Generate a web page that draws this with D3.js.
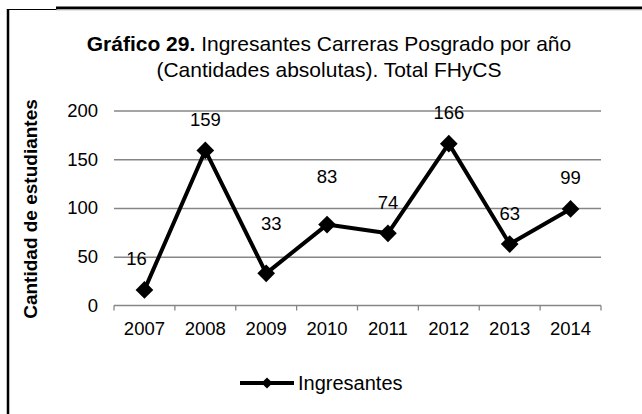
<!DOCTYPE html>
<html>
<head>
<meta charset="utf-8">
<script src="https://cdn.jsdelivr.net/npm/d3@7"></script>
<style>
  body { margin: 0; background: #fff; }
  text { font-family: "Liberation Sans", Arial, sans-serif; fill: #000; }
</style>
</head>
<body>
<div id="chart"></div>
<script>
// Ingresantes por año
var years = ["2007", "2008", "2009", "2010", "2011", "2012", "2013", "2014"];
var ingresantes = [16, 159, 33, 83, 74, 166, 63, 99];
var yTicks = [0, 50, 100, 150, 200];
var seriesName = "Ingresantes";

// some labels were nudged in the original to stay clear of the line
var labelLift = { "2009": 50, "2010": 48 };
var labelShift = { "2007": -8, "2009": 5 };

var WIDTH = 642, HEIGHT = 414;
var margin = { left: 114, right: 41, top: 110.5, bottom: 108.5 };

var svg = d3.select("#chart").append("svg")
    .attr("width", WIDTH)
    .attr("height", HEIGHT);

// frame
svg.append("line").attr("x1", 8).attr("x2", 8).attr("y1", 9).attr("y2", HEIGHT)
    .attr("stroke", "#000").attr("stroke-width", 2.5);
svg.append("line").attr("x1", 9.5).attr("x2", 9.5).attr("y1", 10).attr("y2", HEIGHT)
    .attr("stroke", "#bbb").attr("stroke-width", 1);
svg.append("line").attr("x1", 7).attr("x2", 57).attr("y1", 9.5).attr("y2", 9.5)
    .attr("stroke", "#000").attr("stroke-width", 1);
svg.append("line").attr("x1", 56).attr("x2", WIDTH).attr("y1", 8).attr("y2", 8)
    .attr("stroke", "#000").attr("stroke-width", 3);
svg.append("line").attr("x1", 56).attr("x2", WIDTH).attr("y1", 10).attr("y2", 10)
    .attr("stroke", "#ccc").attr("stroke-width", 1);

var x = d3.scaleBand()
    .domain(years)
    .range([margin.left, WIDTH - margin.right]);

var y = d3.scaleLinear()
    .domain([0, 200])
    .range([HEIGHT - margin.bottom, margin.top]);

// title
var title = svg.append("text")
    .attr("x", 329).attr("y", 51)
    .attr("text-anchor", "middle")
    .style("font-size", "21px");
title.append("tspan").style("font-weight", "bold").text("Gráfico 29.");
title.append("tspan").text(" Ingresantes Carreras Posgrado por año");
svg.append("text")
    .attr("x", 329).attr("y", 77)
    .attr("text-anchor", "middle")
    .style("font-size", "21px")
    .text("(Cantidades absolutas). Total FHyCS");

// gridlines
svg.append("g")
    .attr("transform", "translate(" + margin.left + ",0)")
    .call(d3.axisLeft(y).tickValues(yTicks.slice(1))
        .tickSize(-(WIDTH - margin.left - margin.right)).tickFormat(""))
    .call(function(g) { g.select(".domain").remove(); })
    .selectAll("line").attr("stroke", "#868686").attr("stroke-width", 1.3);

// y tick labels
svg.selectAll(".ylab")
    .data(yTicks)
    .enter()
    .append("text")
    .attr("class", "ylab")
    .attr("x", 98)
    .attr("y", function(d) { return y(d); })
    .attr("dy", "0.35em")
    .attr("text-anchor", "end")
    .style("font-size", "18.5px")
    .text(function(d) { return d; });

// x axis
var xAxis = svg.append("g")
    .attr("transform", "translate(0," + y(0) + ")");
xAxis.append("line")
    .attr("x1", margin.left).attr("x2", WIDTH - margin.right)
    .attr("stroke", "#868686").attr("stroke-width", 1.3);
xAxis.selectAll(".tick")
    .data(years.concat(["end"]))
    .enter()
    .append("line")
    .attr("x1", function(d, i) { return margin.left + i * x.bandwidth(); })
    .attr("x2", function(d, i) { return margin.left + i * x.bandwidth(); })
    .attr("y1", 0).attr("y2", 5)
    .attr("stroke", "#868686").attr("stroke-width", 1.3);
xAxis.selectAll(".xlab")
    .data(years)
    .enter()
    .append("text")
    .attr("x", function(d) { return x(d) + x.bandwidth() / 2; })
    .attr("y", 29)
    .attr("text-anchor", "middle")
    .style("font-size", "18.5px")
    .text(function(d) { return d; });

// y axis title
svg.append("text")
    .attr("transform", "translate(37,209) rotate(-90)")
    .attr("text-anchor", "middle")
    .style("font-size", "19px")
    .style("font-weight", "bold")
    .text("Cantidad de estudiantes");

// series
var cx = function(d, i) { return x(years[i]) + x.bandwidth() / 2; };
var line = d3.line()
    .x(cx)
    .y(function(d) { return y(d); });

svg.append("path")
    .datum(ingresantes)
    .attr("d", line)
    .attr("fill", "none")
    .attr("stroke", "#000")
    .attr("stroke-width", 4)
    .attr("stroke-linejoin", "round");

var diamond = d3.symbol().type(d3.symbolDiamond2).size(200);
svg.selectAll(".pt")
    .data(ingresantes)
    .enter()
    .append("path")
    .attr("class", "pt")
    .attr("d", diamond)
    .attr("transform", function(d, i) { return "translate(" + cx(d, i) + "," + y(d) + ")"; })
    .attr("fill", "#000");

svg.selectAll(".vlab")
    .data(ingresantes)
    .enter()
    .append("text")
    .attr("class", "vlab")
    .attr("x", function(d, i) { return cx(d, i) + (labelShift[years[i]] || 0); })
    .attr("y", function(d, i) { return y(d) - (labelLift[years[i]] || 31); })
    .attr("dy", "0.35em")
    .attr("text-anchor", "middle")
    .style("font-size", "18.5px")
    .text(function(d) { return d; });

// legend
var legend = svg.append("g").attr("transform", "translate(240,383)");
legend.append("line").attr("x1", 0).attr("x2", 54)
    .attr("stroke", "#000").attr("stroke-width", 4);
legend.append("path").attr("d", d3.symbol().type(d3.symbolDiamond2).size(80))
    .attr("transform", "translate(27,0)").attr("fill", "#000");
legend.append("text").attr("x", 58).attr("y", 6.5)
    .style("font-size", "20px")
    .text(seriesName);
</script>
</body>
</html>
